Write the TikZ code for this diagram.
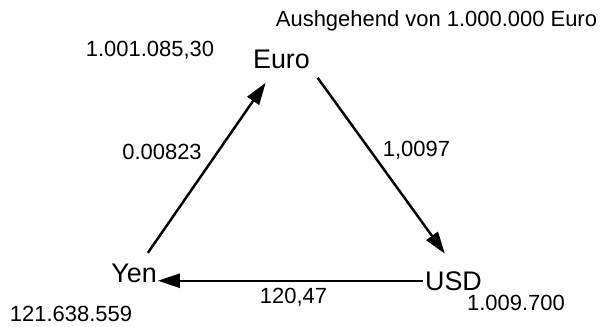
\documentclass[tikz,border=0pt]{standalone}
\usepackage{fontspec}
\setmainfont{Liberation Sans}
\usetikzlibrary{arrows.meta, positioning, calc}
\tikzset{
  % Currency node
  cur/.style={
    inner sep=3pt, anchor=base,
    font=\fontsize{15.3}{18}\selectfont
  },
  % Amount / rate label
  amt/.style={
    inner sep=1pt, anchor=base,
    font=\fontsize{12.5}{15}\selectfont
  },
  % Arrows
  arr/.style={-{Triangle[length=12.5pt,width=8pt]}, line width=1.4pt, black},
}
\begin{document}
\begin{tikzpicture}[x=0.02cm, y=-0.02cm]

  %% Frame
  \useasboundingbox (0,0) rectangle (604,327);

  %% Title
  \node[amt] (title) at (436.5,27) {Aushgehend von 1.000.000 Euro};

  %% Currencies
  \node[cur] (euro) at (281.5,69) {Euro};
  \node[cur] (usd) at (453.5,290) {USD};
  \node[cur] (yen) at (134,282) {Yen};

  %% Amounts
  \node[amt] (euroamt) at (150,56.5) {1.001.085,30};
  \node[amt] (usdamt) at (516,310) {1.009.700};
  \node[amt] (yenamt) at (71,321.5) {121.638.559};

  %% Rates
  \node[amt] (r1) at (162,160) {0.00823};
  \node[amt] (r2) at (416.5,157) {1,0097};
  \node[amt] (r3) at (293.5,303) {120,47};

  %% Flow
  \draw[arr, shorten <=3.5pt, shorten >=5.5pt] (yen) -- (euro);
  \draw[arr, shorten <=2pt, shorten >=8.4pt] (euro.south east) -- (usd.north);
  \draw[arr, shorten <=-2pt, shorten >=-2.5pt] (usd.west) -- (usd.west -| yen.east);

\end{tikzpicture}
\end{document}
